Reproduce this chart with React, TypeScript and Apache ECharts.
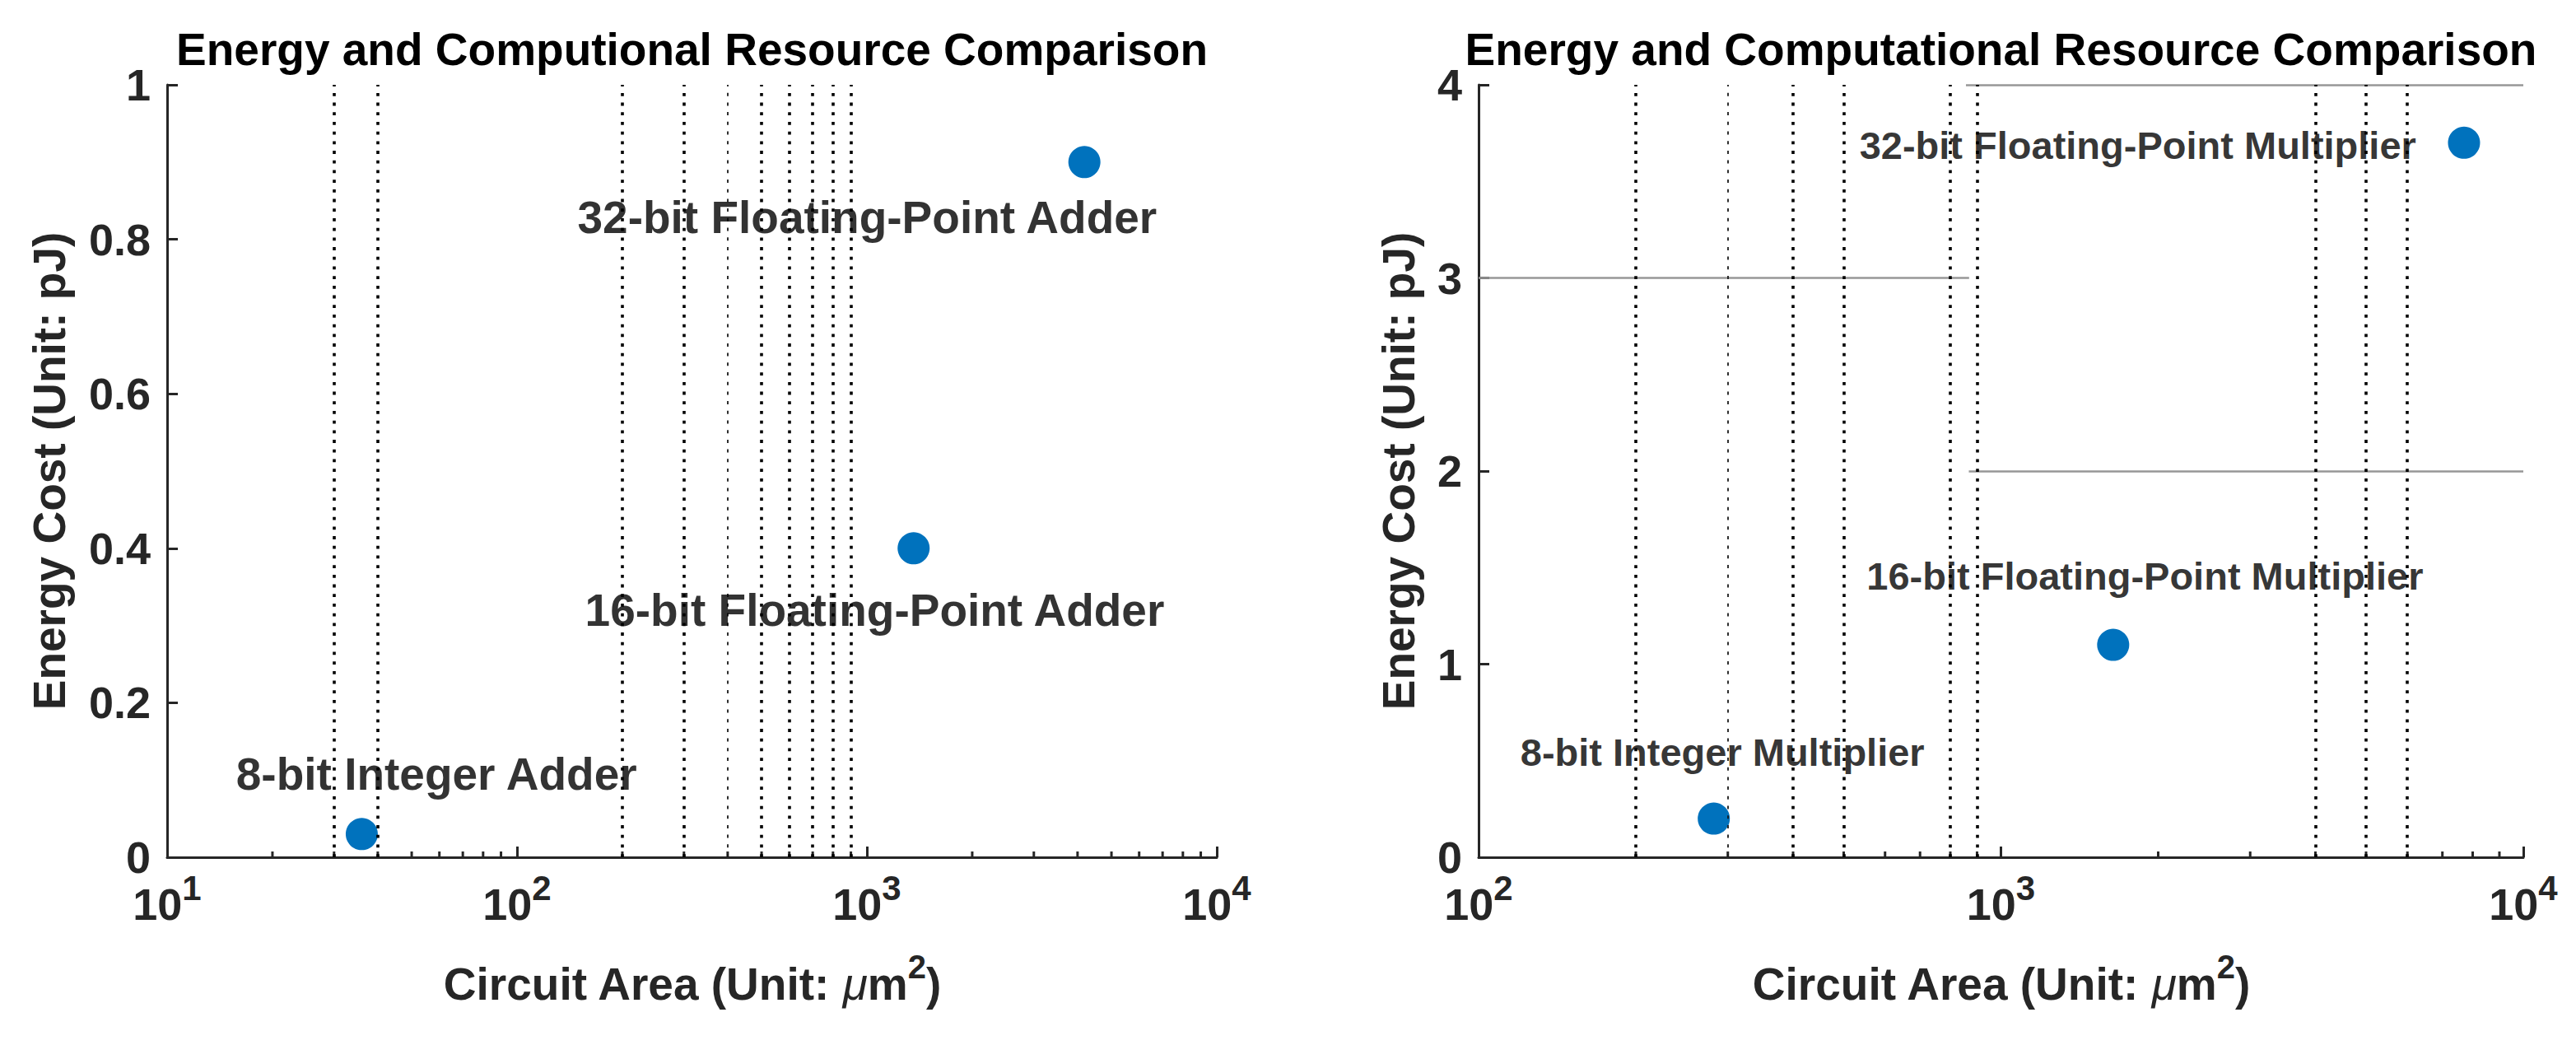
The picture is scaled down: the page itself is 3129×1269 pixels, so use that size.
import React, { useEffect, useRef } from 'react';
import * as echarts from 'echarts';

// ---------- data ----------
const titles = [
  'Energy and Computional Resource Comparison',
  'Energy and Computational Resource Comparison',
];
const yAxisName = 'Energy Cost (Unit: pJ)';

const leftNames = ['8-bit Integer Adder', '16-bit Floating-Point Adder', '32-bit Floating-Point Adder'];
const leftArea = [36, 1360, 4184];
const leftEnergy = [0.03, 0.4, 0.9];
const leftLabelArea = [15.7, 156, 148.5];
const leftLabelEnergy = [0.108, 0.32, 0.828];

const rightNames = ['8-bit Integer Multiplier', '16-bit Floating-Point Multiplier', '32-bit Floating-Point Multiplier'];
const rightArea = [282, 1640, 7700];
const rightEnergy = [0.2, 1.1, 3.7];
const rightLabelArea = [120, 552, 535];
const rightLabelEnergy = [0.542, 1.456, 3.687];

const leftXRange = [10, 10000];
const rightXRange = [100, 10000];
const leftYRange = [0, 1, 0.2];
const rightYRange = [0, 4, 1];

const leftMinorTicks = [20, 30, 40, 50, 60, 70, 80, 90, 200, 300, 400, 500, 600, 700, 800, 900, 2000, 3000, 4000, 5000, 6000, 7000, 8000, 9000];
const rightMinorTicks = [200, 300, 400, 500, 600, 700, 800, 900, 2000, 3000, 4000, 5000, 6000, 7000, 8000, 9000];

const leftDottedLines = [30, 40, 200, 300, 500, 600, 700, 800, 900];
const leftFaintLines = [400];
const rightDottedLines = [200, 400, 500, 800, 900, 4000, 5000, 6000];
const rightFaintLines = [300];

const rightHLineY = [3, 4, 2];
const rightHLineFrom = [100, 857, 868];
const rightHLineTo = [869, 10000, 10000];

// ---------- styling ----------
const FONT = "'Liberation Sans', Arial, Helvetica, sans-serif";
const AXIS = '#262626';
const BLUE = '#0072BD';

const grids = [
  { left: 203, top: 103, width: 1275, height: 938 },
  { left: 1796, top: 103, width: 1269, height: 938 },
];
const yNameGaps = [116, 70];
const labelFont = [55, 47];

const tickRich = {
  b: { fontFamily: FONT, fontSize: 54, lineHeight: 54, fontWeight: 'bold', color: AXIS },
  s: { fontFamily: FONT, fontSize: 42, lineHeight: 42, fontWeight: 'bold', color: AXIS, padding: [0, 0, 39, 0] },
};
const nameRich = {
  n: { fontFamily: FONT, fontSize: 55, lineHeight: 55, fontWeight: 'bold', color: AXIS },
  i: { fontFamily: FONT, fontSize: 55, lineHeight: 55, fontWeight: 'normal', fontStyle: 'italic', color: AXIS },
  s: { fontFamily: FONT, fontSize: 40, lineHeight: 40, fontWeight: 'bold', color: AXIS, padding: [0, 0, 42, 0] },
};

function buildOption() {
  const panels = [
    {
      names: leftNames, area: leftArea, energy: leftEnergy, lx: leftLabelArea, ly: leftLabelEnergy,
      xr: leftXRange, yr: leftYRange, minor: leftMinorTicks, dotted: leftDottedLines, faint: leftFaintLines,
      hy: [] as number[], hf: [] as number[], ht: [] as number[],
    },
    {
      names: rightNames, area: rightArea, energy: rightEnergy, lx: rightLabelArea, ly: rightLabelEnergy,
      xr: rightXRange, yr: rightYRange, minor: rightMinorTicks, dotted: rightDottedLines, faint: rightFaintLines,
      hy: rightHLineY, hf: rightHLineFrom, ht: rightHLineTo,
    },
  ];

  const xAxis: any[] = [];
  const yAxis: any[] = [];
  const series: any[] = [];
  const title: any[] = [];

  panels.forEach((p, i) => {
    const g = grids[i];
    title.push({
      text: titles[i],
      left: g.left + g.width / 2,
      top: 32,
      padding: 0,
      textAlign: 'center',
      textStyle: { fontFamily: FONT, fontSize: 55, lineHeight: 55, fontWeight: 'bold', color: '#000' },
    });
    xAxis.push({
      type: 'log',
      logBase: 10,
      gridIndex: i,
      min: p.xr[0],
      max: p.xr[1],
      name: '{n|Circuit Area (Unit: }{i|μ}{n|m}{s|2}{n|)}',
      nameLocation: 'middle',
      nameGap: 126,
      nameTextStyle: { rich: nameRich, fontFamily: FONT, fontSize: 55, fontWeight: 'bold', color: AXIS },
      axisLine: { show: true, lineStyle: { color: AXIS, width: 3 } },
      axisTick: { show: true, inside: true, length: 13, lineStyle: { color: AXIS, width: 3 } },
      axisLabel: {
        margin: 30,
        fontFamily: FONT,
        fontSize: 54,
        fontWeight: 'bold',
        color: AXIS,
        rich: tickRich,
        formatter: (v: number) => '{b|10}{s|' + Math.round(Math.log10(v)) + '}',
      },
      splitLine: { show: false },
    });
    yAxis.push({
      type: 'value',
      gridIndex: i,
      min: p.yr[0],
      max: p.yr[1],
      interval: p.yr[2],
      name: yAxisName,
      nameLocation: 'middle',
      nameGap: yNameGaps[i],
      nameTextStyle: { fontFamily: FONT, fontSize: 55, lineHeight: 55, fontWeight: 'bold', color: AXIS },
      axisLine: { show: true, lineStyle: { color: AXIS, width: 3 } },
      axisTick: { show: true, inside: true, length: 13, lineStyle: { color: AXIS, width: 3 } },
      axisLabel: { margin: 20, fontFamily: FONT, fontSize: 54, fontWeight: 'bold', color: AXIS },
      splitLine: { show: false },
    });

    const mlData: any[] = [];
    p.hy.forEach((y, k) => {
      mlData.push([
        { coord: [p.hf[k], y], lineStyle: { color: '#979797', width: 2.6, type: 'solid' } },
        { coord: [p.ht[k], y] },
      ]);
    });
    p.faint.forEach((v) => {
      mlData.push({ xAxis: v, lineStyle: { color: '#1a1a1a', width: 1.8, type: [4, 7.7], cap: 'butt' } });
    });
    p.dotted.forEach((v) => {
      mlData.push({ xAxis: v, lineStyle: { color: '#000', width: 3.6, type: [3.8, 7.9], cap: 'butt' } });
    });

    series.push({
      type: 'scatter',
      name: 'points' + i,
      xAxisIndex: i,
      yAxisIndex: i,
      symbol: 'circle',
      symbolSize: 39,
      itemStyle: { color: BLUE, opacity: 1 },
      data: p.area.map((a, k) => [a, p.energy[k]]),
      z: 3,
      markLine: {
        silent: true,
        symbol: ['none', 'none'],
        label: { show: false },
        emphasis: { disabled: true },
        animation: false,
        data: mlData,
      },
    });
    series.push({
      type: 'scatter',
      name: 'labels' + i,
      xAxisIndex: i,
      yAxisIndex: i,
      symbol: 'circle',
      symbolSize: 1,
      silent: true,
      itemStyle: { color: 'rgba(0,0,0,0)' },
      z: 5,
      label: {
        show: true,
        position: 'right',
        distance: 0,
        fontFamily: FONT,
        fontSize: labelFont[i],
        lineHeight: labelFont[i],
        fontWeight: 'bold',
        color: '#000',
        formatter: (prm: any) => p.names[prm.dataIndex],
      },
      data: p.lx.map((a, k) => [a, p.ly[k]]),
    });
    series.push({
      type: 'custom',
      name: 'minor' + i,
      xAxisIndex: i,
      yAxisIndex: i,
      silent: true,
      z: 4,
      renderItem: (_params: any, api: any) => {
        const pt = api.coord([api.value(0), api.value(1)]);
        return {
          type: 'line',
          shape: { x1: pt[0], y1: pt[1], x2: pt[0], y2: pt[1] - 7 },
          style: { stroke: AXIS, lineWidth: 3 },
        };
      },
      data: p.minor.map((v) => [v, p.yr[0]]),
    });
  });

  return {
    animation: false,
    backgroundColor: '#ffffff',
    title,
    grid: grids,
    xAxis,
    yAxis,
    series,
  };
}

export default function App() {
  const ref = useRef<HTMLDivElement>(null);
  useEffect(() => {
    if (!ref.current) return;
    const chart = echarts.init(ref.current, null, { renderer: 'svg' });
    chart.setOption(buildOption() as any);
    return () => chart.dispose();
  }, []);
  return (
    <div
      ref={ref}
      style={{ position: 'fixed', left: 0, top: 0, width: 3129, height: 1269, background: '#fff' }}
    />
  );
}
